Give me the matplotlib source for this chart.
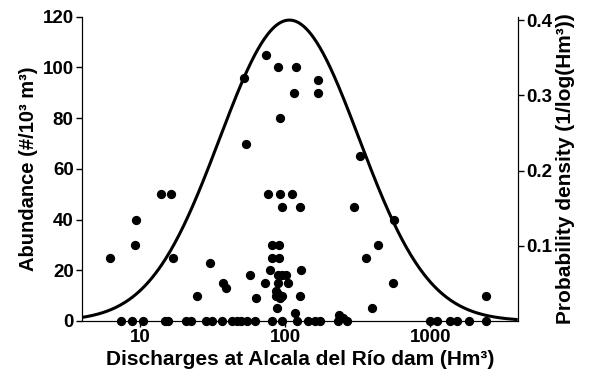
import matplotlib
matplotlib.use('Agg')
import matplotlib.pyplot as plt
import numpy as np

plt.rcParams['font.family'] = ['Liberation Sans', 'DejaVu Sans']
plt.rcParams['font.weight'] = 'bold'

# samples with zero abundance (discharge, Hm3)
zero_q = [7.4, 8.8, 10.5, 14.9, 15.6, 20.7, 22.5, 28.5, 31.4, 36.6,
          43, 46.6, 49.7, 54.7, 62.1, 80.9, 94.8, 120.5, 145, 161,
          174, 232, 268, 989, 1117, 1374, 1528, 1837, 2433]

# samples with abundance > 0
pos_q = [6.2, 9.4, 9.2, 14.0, 16.4, 17.0, 24.6, 30.4, 37.5, 39,
         57.4, 63, 72.8, 81, 91.4, 81, 91.4, 79, 90, 101.6,
         95, 90, 105, 86.7, 87, 92, 95, 89, 88, 117,
         128, 127, 95, 127, 74, 90, 118.6, 52, 168, 115,
         170, 92.5, 53.6, 329, 76.8, 92.5, 111, 299, 559, 440,
         362, 558, 396, 237, 250, 2433]
pos_a = [25, 40, 30, 50, 50, 25, 10, 23, 15, 13,
         18, 9, 15, 30, 30, 25, 25, 20, 18, 18,
         18, 15, 15, 12, 10, 9, 10, 10.5, 5, 3,
         20, 10, 45, 45, 105, 100, 100, 96, 95, 90,
         90, 80, 70, 65, 50, 50, 50, 45, 40, 30,
         25, 15, 5, 2.4, 1, 10]

# fitted density of log discharge (log10 scale)
fit_mu = 2.03
fit_sigma = 0.48
fit_peak = 0.4

fig = plt.figure(figsize=(5.92, 3.81), dpi=100)
ax = fig.add_axes([0.1385, 0.1575, 0.736, 0.7985])

ax.scatter(zero_q, [0] * len(zero_q), s=32, color='black', zorder=3, clip_on=False)
ax.scatter(pos_q, pos_a, s=32, color='black', zorder=3)

ax.set_xscale('log')
ax.set_xlim(4, 4000)
ax.set_ylim(0, 120)
ax.set_xticks([10, 100, 1000])
ax.set_xticklabels(['10', '100', '1000'])
ax.xaxis.set_minor_locator(matplotlib.ticker.NullLocator())
ax.set_yticks(np.arange(0, 121, 20))
ax.tick_params(labelsize=13.5, length=4, width=1, pad=2)
ax.spines['top'].set_visible(False)

ax.set_xlabel('Discharges at Alcala del Río dam (Hm³)', fontsize=15, fontweight='bold', labelpad=3)
ax.set_ylabel('Abundance (#/10³ m³)', fontsize=14.5, fontweight='bold', labelpad=3)

ax2 = ax.twinx()
lq = np.linspace(np.log10(4), np.log10(4000), 400)
dens = fit_peak * np.exp(-0.5 * ((lq - fit_mu) / fit_sigma) ** 2)
ax2.plot(10 ** lq, dens, color='black', lw=2.2, solid_capstyle='butt')
ax2.set_ylim(0, 0.4044)
ax2.set_yticks([0.1, 0.2, 0.3, 0.4])
ax2.set_yticklabels(['0.1', '0.2', '0.3', '0.4'])
ax2.tick_params(labelsize=13.5, length=4, width=1, pad=2)
ax2.spines['top'].set_visible(False)
ax2.set_ylabel('Probability density (1/log(Hm³))', fontsize=15, fontweight='bold', labelpad=3)

for a in (ax, ax2):
    for lab in a.get_xticklabels() + a.get_yticklabels():
        lab.set_fontweight('bold')

fig.savefig('out.png', dpi=100)
